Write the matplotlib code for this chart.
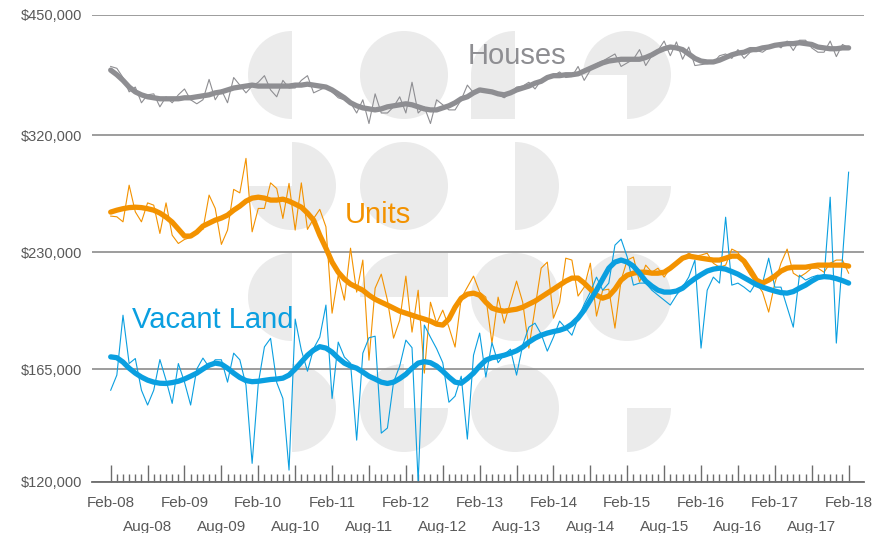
import numpy as np
import matplotlib
matplotlib.use('Agg')
import matplotlib.pyplot as plt
from matplotlib.patches import Wedge, Rectangle
from matplotlib.ticker import NullLocator

plt.rcParams['font.family'] = ['Liberation Sans', 'DejaVu Sans']

# monthly series, Feb-08 .. Feb-18 (121 months), values in $000
months = np.arange(121)

houses_raw = [389, 387, 377, 362, 367, 351, 359, 360, 347, 357,
              351, 359, 365, 354, 350, 354, 375, 354, 364, 351,
              377, 369, 361, 368, 372, 379, 364, 357, 374, 366,
              366, 374, 379, 361, 364, 367, 362, 356, 354, 351,
              341, 354, 331, 360, 341, 341, 347, 357, 341, 372,
              341, 347, 331, 354, 349, 344, 344, 354, 369, 361,
              365, 362, 363, 359, 356, 361, 367, 368, 372, 365,
              374, 378, 379, 383, 377, 378, 389, 374, 385, 392,
              395, 399, 403, 389, 393, 397, 408, 390, 401, 407,
              418, 401, 417, 397, 411, 390, 391, 392, 393, 401,
              403, 398, 408, 398, 405, 407, 405, 410, 415, 410,
              418, 407, 419, 419, 410, 405, 405, 418, 400, 414,
              410]
houses_trend = [385, 380, 374, 367, 362, 359, 357, 356, 355, 355,
                355, 355, 356, 356, 357, 358, 359, 361, 362, 364,
                366, 367, 368, 369, 368, 368, 368, 368, 368, 368,
                369, 369, 370, 369, 368, 367, 364, 360, 356, 351,
                348, 346, 345, 344, 345, 347, 348, 349, 350, 349,
                347, 345, 344, 344, 346, 348, 351, 355, 357, 361,
                364, 363, 362, 360, 359, 361, 364, 366, 368, 371,
                373, 377, 379, 379, 380, 380, 381, 384, 387, 390,
                393, 395, 396, 397, 397, 397, 397, 399, 402, 406,
                409, 411, 410, 408, 403, 398, 395, 394, 394, 396,
                399, 402, 404, 405, 408, 408, 410, 411, 413, 414,
                415, 415, 416, 415, 414, 411, 410, 409, 409, 410,
                410]

units_raw = [254.7, 254.2, 250.6, 278.0, 257.8, 250.6, 264.4, 262.7, 242.5, 264.4,
             241.3, 235.7, 238.4, 239.8, 244.8, 245.3, 270.3, 260.3, 235.1, 244.8,
             274.7, 272.0, 299.9, 243.6, 260.3, 260.3, 279.8, 275.4, 253.0, 279.4,
             244.8, 279.8, 245.3, 253.0, 259.6, 247.1, 193.5, 215.5, 200.8, 232.6,
             205.4, 224.9, 169.4, 207.7, 216.1, 200.8, 180.3, 189.7, 214.9, 183.4,
             206.5, 163.3, 199.6, 188.1, 195.2, 186.0, 175.8, 201.9, 208.3, 214.9,
             205.4, 202.5, 177.8, 202.5, 188.1, 199.6, 211.9, 199.6, 175.3, 196.3,
             219.8, 223.6, 190.8, 199.6, 226.1, 224.9, 203.1, 208.3, 222.9, 191.9,
             206.5, 207.1, 185.5, 212.5, 224.9, 226.8, 211.3, 221.7, 217.3, 219.8,
             214.3, 219.8, 221.7, 226.1, 229.3, 227.4, 228.1, 229.3, 222.9, 220.4,
             221.7, 232.0, 230.0, 221.7, 215.5, 210.7, 205.4, 194.1, 210.7, 222.9,
             232.0, 216.7, 214.3, 216.7, 219.8, 219.8, 217.3, 222.9, 224.9, 224.9,
             216.7]
units_trend = [257.6, 259.0, 260.1, 260.9, 261.2, 260.9, 260.1, 259.0, 256.9, 254.0,
               250.4, 245.5, 240.7, 240.7, 243.4, 247.6, 249.7, 251.8, 253.3, 255.4,
               259.0, 262.0, 265.7, 268.0, 268.7, 268.0, 266.5, 266.5, 267.2, 265.7,
               263.5, 261.2, 256.9, 251.8, 241.3, 232.6, 223.6, 217.3, 213.1, 210.1,
               208.3, 206.5, 203.6, 201.3, 199.6, 198.0, 196.3, 194.6, 193.5, 192.4,
               191.3, 190.3, 189.2, 187.6, 187.1, 190.3, 196.8, 201.9, 204.2, 204.8,
               203.6, 199.6, 196.3, 195.2, 194.6, 195.2, 195.7, 196.8, 198.5, 200.2,
               202.5, 204.8, 207.1, 209.5, 211.9, 213.7, 213.7, 210.7, 207.1, 203.6,
               201.9, 203.1, 207.1, 212.5, 215.5, 216.7, 217.3, 217.3, 216.7, 216.7,
               217.3, 219.8, 222.9, 226.1, 227.4, 226.8, 226.1, 225.5, 224.9, 224.9,
               226.1, 227.4, 227.4, 224.2, 218.6, 212.5, 210.7, 212.5, 214.9, 218.0,
               219.8, 220.4, 220.4, 220.4, 221.1, 221.7, 221.7, 221.7, 221.7, 221.7,
               221.1]

land_raw = [155.6, 162.4, 192.4, 167.8, 170.2, 155.6, 149.2, 155.6, 169.7, 160.1,
            149.9, 167.8, 159.2, 149.2, 165.2, 170.4, 166.1, 169.6, 169.6, 159.2,
            172.8, 169.6, 157.8, 126.5, 158.6, 175.9, 180.2, 159.0, 152.0, 124.1,
            190.3, 174.3, 164.2, 175.1, 180.8, 198.0, 152.0, 178.3, 170.9, 168.0,
            135.1, 172.8, 180.5, 181.3, 137.8, 139.8, 159.2, 166.6, 179.3, 175.5,
            120.0, 187.1, 180.8, 175.0, 168.2, 150.4, 153.0, 161.9, 135.5, 171.8,
            182.9, 161.5, 178.0, 168.2, 172.1, 174.8, 162.4, 176.8, 186.0, 188.1,
            182.4, 173.8, 180.8, 189.2, 185.5, 181.8, 190.8, 198.5, 205.4, 214.3,
            206.5, 210.7, 234.6, 238.6, 226.8, 209.5, 210.7, 210.7, 206.5, 203.6,
            200.8, 198.0, 203.6, 208.3, 214.3, 224.9, 175.3, 206.5, 214.3, 210.7,
            253.9, 209.5, 210.7, 208.3, 205.4, 211.3, 210.7, 226.1, 208.3, 208.3,
            196.8, 186.0, 215.5, 212.5, 214.3, 215.5, 213.7, 268.7, 177.8, 226.1,
            288.4]
land_trend = [171.0, 170.6, 168.5, 165.6, 163.3, 161.5, 160.1, 159.2, 158.7, 158.6,
              159.0, 159.6, 160.6, 161.9, 163.3, 165.2, 167.0, 168.0, 167.5, 165.6,
              163.3, 161.3, 159.9, 159.4, 159.6, 160.0, 160.4, 160.6, 161.0, 162.4,
              165.2, 168.5, 171.8, 174.3, 176.0, 175.3, 173.3, 170.4, 168.0, 166.6,
              165.6, 163.8, 161.9, 160.6, 159.2, 158.6, 159.2, 160.8, 162.8, 165.6,
              168.0, 168.7, 168.2, 166.6, 164.2, 161.5, 159.2, 158.7, 160.8, 163.3,
              166.6, 169.4, 170.6, 171.1, 171.8, 172.8, 174.0, 175.8, 178.3, 180.3,
              181.8, 182.9, 183.7, 184.4, 185.5, 187.6, 190.8, 195.2, 200.8, 206.5,
              213.1, 219.8, 223.6, 224.9, 223.6, 221.1, 216.7, 211.9, 208.9, 206.5,
              205.4, 205.4, 206.0, 207.7, 210.7, 213.4, 215.8, 218.0, 219.2, 219.8,
              219.2, 217.7, 216.1, 214.0, 211.9, 209.8, 208.3, 207.1, 206.0, 205.1,
              204.8, 205.7, 207.7, 209.5, 211.9, 214.0, 214.6, 214.3, 213.4, 212.2,
              210.7]

feb_pos = [0, 12, 24, 36, 48, 60, 72, 84, 96, 108, 120]
feb_labels = ['Feb-08', 'Feb-09', 'Feb-10', 'Feb-11', 'Feb-12', 'Feb-13',
              'Feb-14', 'Feb-15', 'Feb-16', 'Feb-17', 'Feb-18']
aug_pos = [6, 18, 30, 42, 54, 66, 78, 90, 102, 114]
aug_labels = ['Aug-08', 'Aug-09', 'Aug-10', 'Aug-11', 'Aug-12', 'Aug-13',
              'Aug-14', 'Aug-15', 'Aug-16', 'Aug-17']
y_ticks = [120, 165, 230, 320, 450]
y_labels = ['$120,000', '$165,000', '$230,000', '$320,000', '$450,000']

GREY = '#8e8e92'
ORANGE = '#f39200'
BLUE = '#0a9fe0'
TEXT = '#595959'

# background watermark: blocks of quarter discs / squares (pixel coords)
MARK_R = 44
mark_blocks = [
    (292, 75, 'r', '', '', 'r'),
    (404, 75, 'r', 'r', 'r', 'r'),
    (515, 75, 'r', '', '', 's'),
    (627, 75, 'r', 'r', 'r', ''),
    (292, 186, '', 'r', 'r', 'r'),
    (404, 186, 'r', 'r', 'r', 'r'),
    (515, 186, '', 'r', 'r', ''),
    (627, 186, '', '', 'r', ''),
    (292, 297, 'r', '', '', 'r'),
    (404, 297, 'r', 's', '', ''),
    (515, 297, 'r', 'r', 'r', 'r'),
    (627, 297, 'r', 'r', 'r', 'r'),
    (292, 408, '', 'r', 'r', ''),
    (404, 408, 'r', '', 'r', 'r'),
    (515, 408, 'r', 'r', 'r', 'r'),
    (627, 408, '', '', 'r', ''),
]


def draw_watermark(fig):
    """
    Draws the light grey logo shapes behind the chart.
    """
    bg = fig.add_axes([0, 0, 1, 1], zorder=0)
    bg.set_xlim(0, 873)
    bg.set_ylim(533, 0)
    bg.axis('off')
    # angles in data coords with y pointing down: TL, TR, BR, BL
    quads = [(180, 270, -1, -1), (270, 360, 0, -1), (0, 90, 0, 0), (90, 180, -1, 0)]
    for cx, cy, *kinds in mark_blocks:
        for (t1, t2, dx, dy), kind in zip(quads, kinds):
            if kind == 'r':
                bg.add_patch(Wedge((cx, cy), MARK_R, t1, t2, color='#ebebeb', lw=0))
            elif kind == 's':
                bg.add_patch(Rectangle((cx + dx * MARK_R, cy + dy * MARK_R),
                                       MARK_R, MARK_R, color='#ebebeb', lw=0))


fig = plt.figure(figsize=(8.73, 5.33), dpi=100)
draw_watermark(fig)

ax = fig.add_axes([92 / 873, 1 - 482 / 533, 772 / 873, 467 / 533], zorder=1)
ax.patch.set_alpha(0)

ax.plot(months, houses_raw, color=GREY, lw=0.8)
ax.plot(months, houses_trend, color=GREY, lw=3.8, solid_capstyle='round')
ax.plot(months, units_raw, color=ORANGE, lw=0.8)
ax.plot(months, land_raw, color=BLUE, lw=0.8)
ax.plot(months, units_trend, color=ORANGE, lw=3.8, solid_capstyle='round')
ax.plot(months, land_trend, color=BLUE, lw=3.8, solid_capstyle='round')

ax.text(58.1, 392, 'Houses', color=GREY, fontsize=21, va='baseline')
ax.text(38.1, 249.7, 'Units', color=ORANGE, fontsize=21, va='baseline')
ax.text(3.5, 185.5, 'Vacant Land', color=BLUE, fontsize=21, va='baseline')

ax.set_yscale('log')
ax.set_ylim(120, 450)
ax.set_xlim(-3.04, 122.5)
ax.set_yticks(y_ticks, y_labels)
ax.yaxis.set_minor_locator(NullLocator())
ax.grid(axis='y', color='#8c8c8c', lw=1.2)
ax.set_axisbelow(True)

ax.set_xticks(feb_pos, feb_labels)
ax.set_xticks(aug_pos, aug_labels, minor=True)
ax.tick_params(axis='x', which='major', direction='in', length=12, width=1,
               color='#6d6d6d', pad=10, labelsize=11, labelcolor=TEXT)
ax.tick_params(axis='x', which='minor', direction='in', length=12, width=1,
               color='#6d6d6d', pad=27, labelsize=11, labelcolor=TEXT)
ax.tick_params(axis='y', length=0, pad=7, labelsize=10.5, labelcolor=TEXT)

# small monthly ticks
sec = ax.secondary_xaxis('bottom')
sec.set_xticks([m for m in months if m % 6 != 0])
sec.tick_params(direction='in', length=6, width=1, color='#6d6d6d', labelbottom=False)
sec.spines['bottom'].set_visible(False)

for s in ['top', 'right', 'left']:
    ax.spines[s].set_visible(False)
ax.spines['bottom'].set_color('#6d6d6d')
ax.spines['bottom'].set_linewidth(1.3)

fig.savefig('out.png', dpi=100)
